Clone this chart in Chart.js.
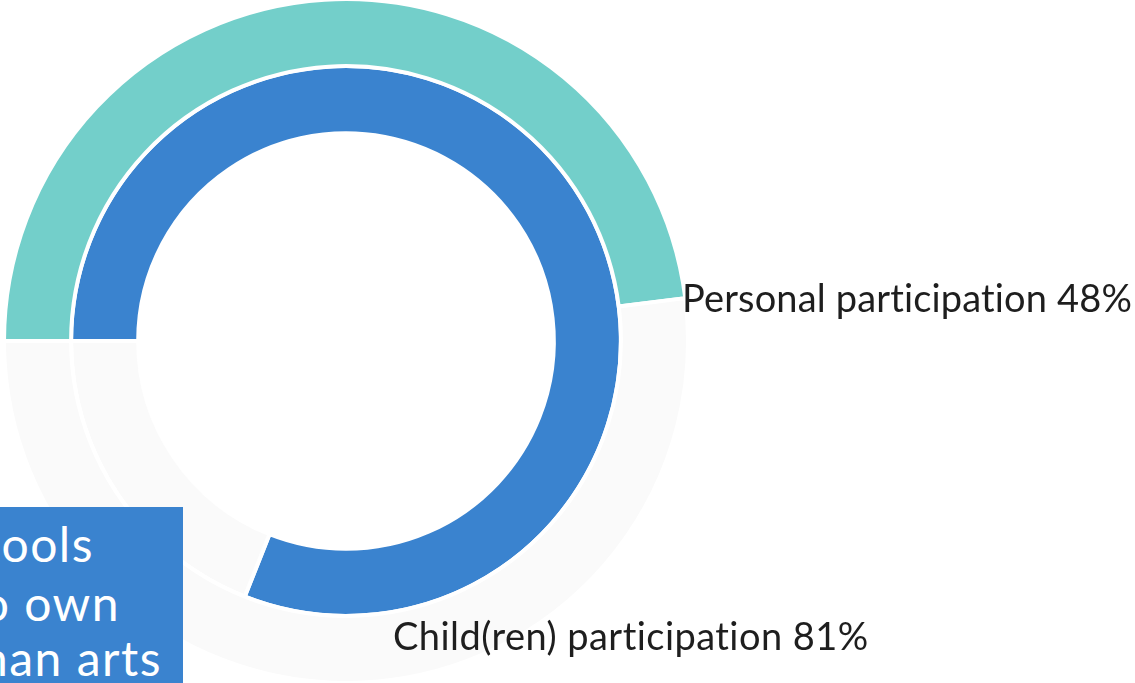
<!DOCTYPE html>
<html>
<head>
<meta charset="utf-8">
<script src="https://cdn.jsdelivr.net/npm/chart.js@4.4.1/dist/chart.umd.min.js"></script>
<style>
  html, body { margin: 0; padding: 0; background: #ffffff; overflow: hidden; }
  body { width: 1135px; height: 683px; position: relative; font-family: "Lato", "Noto Sans", sans-serif; font-variant-ligatures: none; font-feature-settings: "liga" 0, "clig" 0; }
  #wrap { position: absolute; left: 0; top: 0; width: 692px; height: 682px; }
  .label { position: absolute; white-space: nowrap; color: #1e1e1e; font-size: 38px; line-height: 1; }
  #lblPersonal { letter-spacing: 0.15px; }
  #lblChild { letter-spacing: 0.45px; }
  #note { position: absolute; left: 0; top: 507px; width: 183px; height: 176px; background: #3A83CF; overflow: hidden; }
  #note div { position: absolute; white-space: nowrap; color: #ffffff; font-size: 48px; line-height: 1; letter-spacing: 1.5px; }
</style>
</head>
<body>
<div id="wrap"><canvas id="chart"></canvas></div>
<div class="label" id="lblPersonal"></div>
<div class="label" id="lblChild"></div>
<div id="note"></div>
<script>
// Participation shares (percent), outer ring first
const ringNames = ['Personal participation', 'Child(ren) participation'];
const shares = [48, 81];
const ringColors = ['#73CFCA', '#3A83CF'];
const restColor = '#FAFAFA';
const noteLines = ['schools', 'to own', 'than arts'];

const datasets = shares.map((v, i) => ({
  label: ringNames[i],
  data: [v, 100 - v],
  backgroundColor: [ringColors[i], restColor],
  borderColor: '#ffffff',
  borderWidth: 4,
  hoverOffset: 0
}));

new Chart(document.getElementById('chart'), {
  type: 'doughnut',
  data: { labels: ['Yes', 'No'], datasets },
  options: {
    responsive: true,
    maintainAspectRatio: false,
    animation: false,
    rotation: -90,
    radius: 342,
    cutout: 206,
    layout: { padding: 0 },
    plugins: { legend: { display: false }, tooltip: { enabled: false } },
    events: []
  }
});

// Ring labels
const lp = document.getElementById('lblPersonal');
lp.textContent = ringNames[0] + ' ' + shares[0] + '%';
lp.style.left = '682px'; lp.style.top = '278px';
const lc = document.getElementById('lblChild');
lc.textContent = ringNames[1] + ' ' + shares[1] + '%';
lc.style.left = '393px'; lc.style.top = '616px';

// Text box in the lower-left corner (lines run off its left edge)
const note = document.getElementById('note');
const noteRight = [89, 63, 21];
const noteTop = [13, 72, 127];
noteLines.forEach((t, i) => {
  const d = document.createElement('div');
  d.textContent = t;
  d.style.right = noteRight[i] + 'px';
  d.style.top = noteTop[i] + 'px';
  note.appendChild(d);
});
</script>
</body>
</html>
